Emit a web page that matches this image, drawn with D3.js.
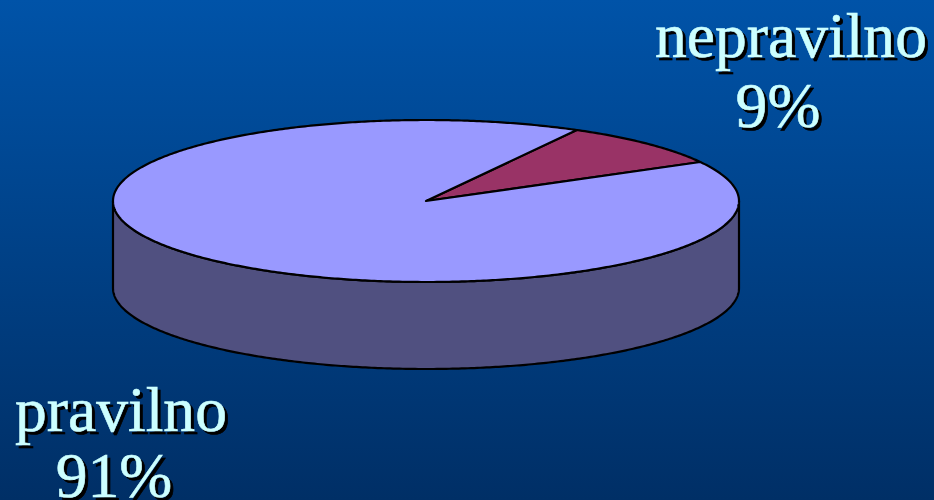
<!DOCTYPE html>
<html>
<head>
<meta charset="utf-8">
<script src="https://cdn.jsdelivr.net/npm/d3@7"></script>
<style>html,body{margin:0;padding:0;background:#003a78}svg{display:block}</style>
</head>
<body>
<script>
const categories = ["nepravilno", "pravilno"];
const values = [9, 91];
const valueLabels = ["9%", "91%"];
const sliceColors = ["#993366", "#9999ff"];
const sideColor = "#505080";

const W = 934, H = 500;
const svg = d3.select("body").append("svg").attr("width", W).attr("height", H);

const defs = svg.append("defs");
const grad = defs.append("linearGradient").attr("id", "bg").attr("x1", 0).attr("y1", 0).attr("x2", 0).attr("y2", 1);
grad.append("stop").attr("offset", "0%").attr("stop-color", "#0053a8");
grad.append("stop").attr("offset", "100%").attr("stop-color", "#002f66");
svg.append("rect").attr("width", W).attr("height", H).attr("fill", "url(#bg)");

// Unit circle projected onto the tilted disc
const xS = d3.scaleLinear().domain([-1, 1]).range([113, 739]);
const yS = d3.scaleLinear().domain([-1, 1]).range([120, 282]);
const depth = 87;
const startA = 28.8 * Math.PI / 180;

const pie = d3.pie().sort(null).value(d => d)
  .startAngle(startA).endAngle(startA + 2 * Math.PI);
const arcs = pie(values);

const px = a => xS(Math.sin(a));
const py = a => yS(-Math.cos(a));
const arcPts = (a0, a1) => {
  const n = Math.max(2, Math.ceil(Math.abs(a1 - a0) / 0.01));
  return d3.range(n + 1).map(i => a0 + (a1 - a0) * i / n);
};
const line = d3.line().x(d => d[0]).y(d => d[1]);

// Side wall: front half of the disc, extruded downward
const front = arcPts(Math.PI / 2, 3 * Math.PI / 2);
const sidePts = front.map(a => [px(a), py(a)])
  .concat(front.slice().reverse().map(a => [px(a), py(a) + depth]));
svg.append("path")
  .attr("d", line(sidePts) + "Z")
  .attr("fill", sideColor).attr("stroke", "#000").attr("stroke-width", 2.2).attr("stroke-linejoin", "round");

// Top slices
svg.selectAll("path.slice").data(arcs).join("path").attr("class", "slice")
  .attr("d", d => {
    const pts = arcPts(d.startAngle, d.endAngle).map(a => [px(a), py(a)]);
    return line([[xS(0), yS(0)]].concat(pts)) + "Z";
  })
  .attr("fill", (d, i) => sliceColors[i])
  .attr("stroke", "#000").attr("stroke-width", 2.2).attr("stroke-linejoin", "round");

// Labels
const labelPos = [
  { x: 791, y1: 57, y2: 127, dx: -13 },
  { x: 121, y1: 431, y2: 497, dx: -7 }
];
const fontSize = 63.6;
function label(txt, x, y) {
  svg.append("text").attr("x", x).attr("y", y)
    .attr("text-anchor", "middle")
    .attr("font-family", "'Liberation Serif', serif")
    .attr("font-size", fontSize)
    .attr("fill", "#ccffff")
    .attr("stroke", "#ccffff").attr("stroke-width", 0.6)
    .style("filter", "drop-shadow(3px 3px 0 #000)")
    .text(txt);
}
categories.forEach((c, i) => {
  label(c, labelPos[i].x, labelPos[i].y1);
  label(valueLabels[i], labelPos[i].x + labelPos[i].dx, labelPos[i].y2);
});
</script>
</body>
</html>
